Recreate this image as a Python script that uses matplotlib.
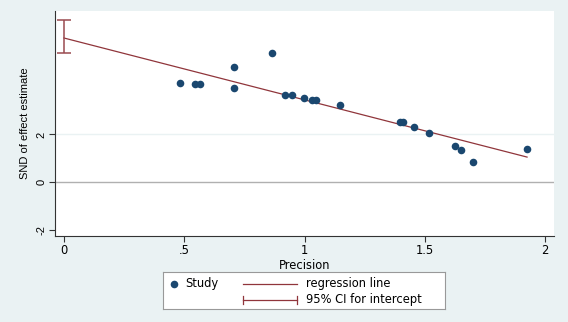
import numpy as np
import matplotlib.pyplot as plt

plt.rcParams['font.family'] = ['DejaVu Sans']

# study points
precision = [0.482, 0.545, 0.565, 0.707, 0.707, 0.865, 0.919, 0.948, 0.998, 1.03, 1.048,
             1.148, 1.397, 1.41, 1.455, 1.518, 1.626, 1.65, 1.70, 1.925]
snd = [4.17, 4.12, 4.12, 4.83, 3.96, 5.42, 3.67, 3.67, 3.54, 3.46, 3.46,
       3.25, 2.54, 2.54, 2.33, 2.08, 1.5, 1.33, 0.83, 1.375]

intercept = 6.04
slope = -2.59
ci_low, ci_high = 5.42, 6.79

xticks = [0, 0.5, 1, 1.5, 2]
xticklabels = ['0', '.5', '1', '1.5', '2']
yticks = [-2, 0, 2]

navy = '#1a476f'
maroon = '#90353b'
bg = '#eaf2f3'
fs = 8.3

fig = plt.figure(figsize=(5.68, 3.22), dpi=100, facecolor=bg)
ax = fig.add_axes([55/568, 86/322, 499/568, 225/322])
ax.set_facecolor('white')

ax.axhline(2, color=bg, lw=1.0, zorder=1)
ax.axhline(0, color='#b0b0b0', lw=1.0, zorder=1)

xl = np.array([0, max(precision)])
ax.plot(xl, intercept + slope * xl, color=maroon, lw=0.9, zorder=2)
ax.errorbar([0], [(ci_low + ci_high) / 2], yerr=[[(ci_high - ci_low) / 2]],
            fmt='none', ecolor='#9a4a50', elinewidth=1.1, capsize=5, capthick=1.1, zorder=3)
ax.scatter(precision, snd, s=30, color=navy, zorder=4, linewidths=0)

ax.set_xlim(-0.037, 2.037)
ax.set_ylim(-2.25, 7.17)
ax.set_xticks(xticks)
ax.set_xticklabels(xticklabels, fontsize=fs)
ax.set_yticks(yticks)
ax.set_yticklabels([str(t) for t in yticks], rotation=90, va='center',
                   fontsize=8, family='Liberation Sans')
ax.tick_params(length=4, width=0.8, color='#333333', pad=2)
for s in ['top', 'right']:
    ax.spines[s].set_visible(False)
for s in ['left', 'bottom']:
    ax.spines[s].set_color('#333333')
    ax.spines[s].set_linewidth(0.8)
ax.set_xlabel('Precision', fontsize=fs, labelpad=1)
ax.set_ylabel('SND of effect estimate', fontsize=8, family='Liberation Sans', labelpad=5)

# legend box
lg = fig.add_axes([163/568, 13/322, 282/568, 37/322])
lg.set_xlim(0, 282)
lg.set_ylim(37, 0)
lg.set_xticks([])
lg.set_yticks([])
lg.set_facecolor('white')
for s in lg.spines.values():
    s.set_color('#999999')
    s.set_linewidth(0.8)
lg.scatter([11], [12], s=30, color=navy, linewidths=0)
lg.text(22, 12, 'Study', fontsize=fs, va='center')
lg.plot([80, 134], [12, 12], color=maroon, lw=0.9)
lg.text(143, 12, 'regression line', fontsize=fs, va='center')
lg.plot([80, 134], [28, 28], color=maroon, lw=0.9)
lg.plot([80, 80], [24, 32], color=maroon, lw=0.9)
lg.plot([134, 134], [24, 32], color=maroon, lw=0.9)
lg.text(143, 28, '95% CI for intercept', fontsize=fs, va='center')

fig.savefig('out.png', dpi=100, facecolor=bg)
